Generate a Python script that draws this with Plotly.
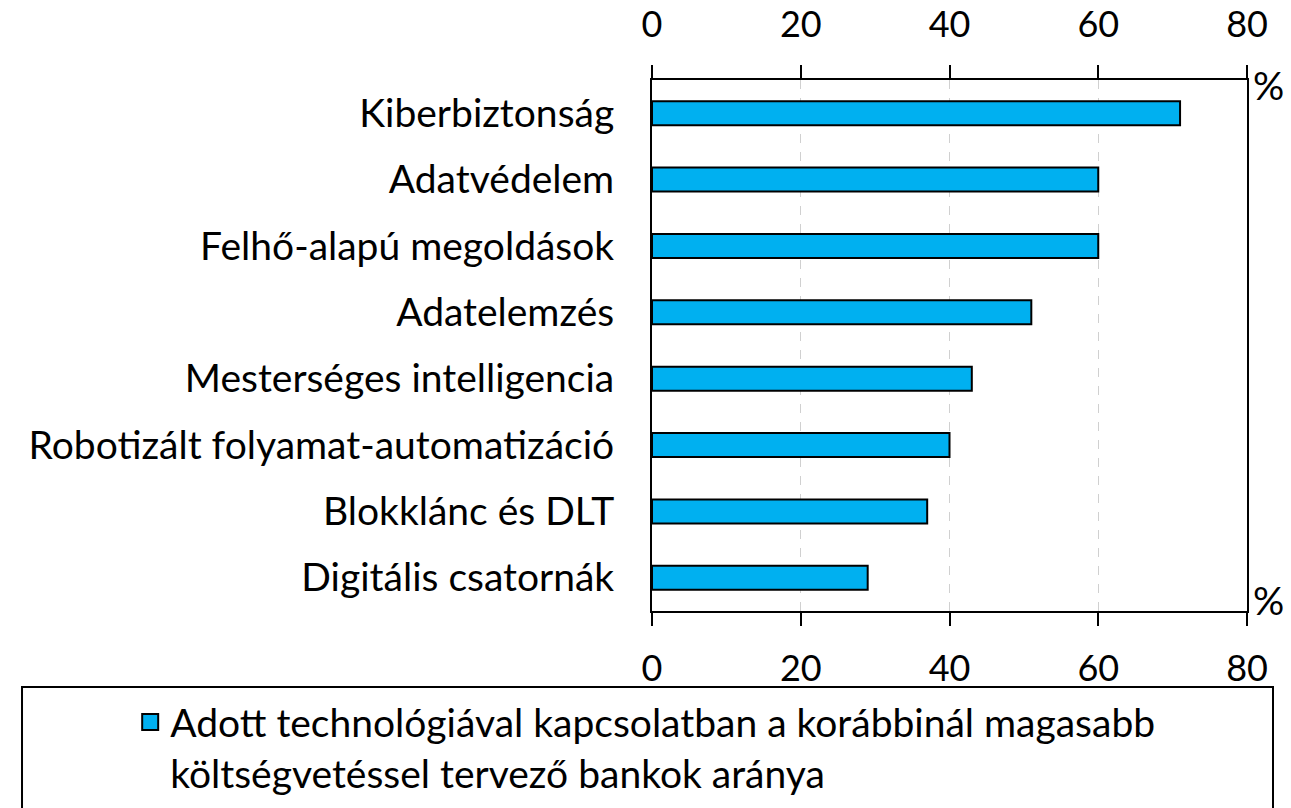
import plotly.graph_objects as go

categories = [
    "Kiberbiztonság",
    "Adatvédelem",
    "Felhő-alapú megoldások",
    "Adatelemzés",
    "Mesterséges intelligencia",
    "Robotizált folyamat-automatizáció",
    "Blokklánc és DLT",
    "Digitális csatornák",
]
values = [71, 60, 60, 51, 43, 40, 37, 29]
series_name = "Adott technológiával kapcsolatban a korábbinál magasabb<br>költségvetéssel tervező bankok aránya"
tick_vals = [0, 20, 40, 60, 80]

FONT = "Lato"
FS = 39
TFS = 36
BLUE = "#00B0F0"

fig = go.Figure()
fig.add_trace(go.Bar(
    x=values, y=categories, orientation="h",
    name=series_name, legendgroup="s", showlegend=False,
    marker=dict(color=BLUE, line=dict(color="black", width=2)),
    width=0.36,
    xaxis="x", yaxis="y",
))
# legend entry with a larger square swatch (same series)
fig.add_trace(go.Scatter(
    x=[None], y=[None], mode="markers", name=series_name, legendgroup="s",
    marker=dict(symbol="square", size=16, color=BLUE, line=dict(color="black", width=2)),
    xaxis="x", yaxis="y", hoverinfo="skip",
))

axis_common = dict(
    range=[0, 80], tickvals=tick_vals, showline=True, linecolor="black", linewidth=2,
    ticks="outside", ticklen=13, tickwidth=2, tickcolor="black",
    tickfont=dict(family=FONT, size=TFS, color="black"),
    zeroline=False, automargin=False,
)

fig.update_layout(
    width=1291, height=808,
    margin=dict(l=652, r=44, t=80, b=197, autoexpand=False),
    paper_bgcolor="white", plot_bgcolor="white",
    font=dict(family=FONT, size=FS, color="black"),
    showlegend=True,
    xaxis=dict(**axis_common, side="bottom", showgrid=True, gridcolor="#d0d0d0",
               griddash="dash", gridwidth=1, ticklabelstandoff=12),
    xaxis2=dict(**axis_common, side="top", overlaying="x", matches="x",
                showgrid=False, ticklabelstandoff=14),
    yaxis=dict(autorange="reversed", showline=True, mirror=True, linecolor="black",
               linewidth=2, ticks="", showgrid=False, automargin=False,
               tickfont=dict(family=FONT, size=FS, color="black"),
               ticklabelstandoff=28),
    legend=dict(
        x=-0.877, y=-0.149, xanchor="left", yanchor="top", valign="top",
        bgcolor="rgba(0,0,0,0)", borderwidth=0, itemsizing="trace",
        font=dict(family=FONT, size=FS, color="black"),
    ),
    shapes=[dict(type="rect", xref="paper", yref="paper",
                 x0=-1.0588, x1=1.0437, y0=-0.45, y1=-0.1431,
                 line=dict(color="black", width=2), fillcolor="rgba(0,0,0,0)")],
    annotations=[
        dict(text="%", xref="paper", yref="paper", x=1.006, y=1.0 - 5/531,
             xanchor="left", yanchor="middle", showarrow=False,
             font=dict(family=FONT, size=FS, color="black")),
        dict(text="%", xref="paper", yref="paper", x=1.006, y=11/531,
             xanchor="left", yanchor="middle", showarrow=False,
             font=dict(family=FONT, size=FS, color="black")),
    ],
)

# invisible helper so the top axis is drawn
fig.add_trace(go.Scatter(x=[0, 80], y=[categories[0], categories[0]], xaxis="x2", yaxis="y",
                         mode="markers", marker=dict(opacity=0), showlegend=False,
                         hoverinfo="skip"))

fig.write_html("out.html", config={"displayModeBar": False},
               post_script="document.body.style.margin='0';")
